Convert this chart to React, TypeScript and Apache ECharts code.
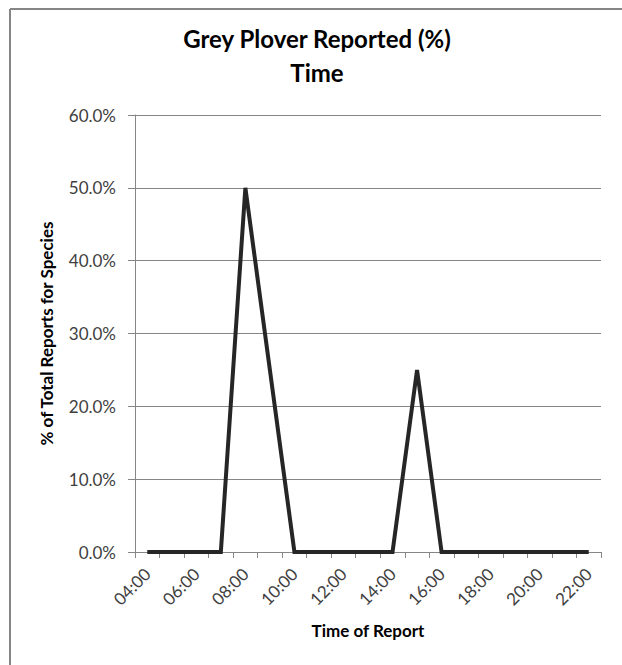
import React, { useEffect, useRef } from "react";
import * as echarts from "echarts";

const categories = [
  "04:00", "05:00", "06:00", "07:00", "08:00", "09:00", "10:00", "11:00", "12:00", "13:00",
  "14:00", "15:00", "16:00", "17:00", "18:00", "19:00", "20:00", "21:00", "22:00",
];
const reportedPct = [0, 0, 0, 0, 50, 25, 0, 0, 0, 0, 0, 25, 0, 0, 0, 0, 0, 0, 0];
const titleLines = ["Grey Plover Reported (%)", "Time"];
const yAxisName = "% of Total Reports for Species";
const xAxisName = "Time of Report";

export default function App() {
  const ref = useRef<HTMLDivElement>(null);
  useEffect(() => {
    if (!ref.current) return;
    const chart = echarts.init(ref.current, null, { renderer: "svg" });
    const font = "Lato, 'Noto Sans', sans-serif";
    const gray = "#868686";
    chart.setOption({
      animation: false,
      backgroundColor: "#ffffff",
      title: {
        text: titleLines.join("\n"),
        left: 312,
        top: 16,
        textAlign: "center",
        textStyle: {
          fontFamily: font,
          fontSize: 24,
          fontWeight: "bold",
          color: "#000000",
          lineHeight: 34,
        },
      },
      graphic: [
        { type: "line", shape: { x1: 10, y1: 9, x2: 622, y2: 9 }, style: { stroke: gray, lineWidth: 2 } },
        { type: "line", shape: { x1: 10, y1: 9, x2: 10, y2: 665 }, style: { stroke: gray, lineWidth: 2 } },
      ],
      grid: { left: 135, right: 21, top: 115, bottom: 113 },
      xAxis: {
        type: "category",
        data: categories,
        boundaryGap: true,
        name: xAxisName,
        nameLocation: "middle",
        nameGap: 70,
        nameTextStyle: { fontFamily: font, fontSize: 17, fontWeight: "bold", color: "#000000" },
        axisLine: { lineStyle: { color: gray, width: 1 } },
        axisTick: { show: true, interval: 0, length: 6, lineStyle: { color: gray } },
        axisLabel: {
          interval: 1,
          rotate: 45,
          margin: 19,
          fontFamily: font,
          fontSize: 17,
          color: "#404040",
        },
        splitLine: { show: false },
      },
      yAxis: {
        type: "value",
        min: 0,
        max: 60,
        interval: 10,
        name: yAxisName,
        nameLocation: "middle",
        nameRotate: 90,
        nameGap: 80,
        nameTextStyle: {
          fontFamily: font,
          fontSize: 17,
          fontWeight: "bold",
          color: "#000000",
        },
        axisLine: { show: true, lineStyle: { color: gray, width: 1 } },
        axisTick: { show: true, length: 7, lineStyle: { color: gray } },
        axisLabel: {
          margin: 19,
          fontFamily: font,
          fontSize: 17,
          color: "#404040",
          formatter: (v: number) => v.toFixed(1) + "%",
        },
        splitLine: { show: true, lineStyle: { color: gray, width: 1 } },
      },
      series: [
        {
          type: "line",
          data: reportedPct,
          symbol: "none",
          lineStyle: { color: "#262626", width: 4, join: "miter" },
          itemStyle: { color: "#262626" },
        },
      ],
    });
    return () => chart.dispose();
  }, []);
  return (
    <div
      ref={ref}
      style={{ position: "fixed", left: 0, top: 0, width: 622, height: 665 }}
    />
  );
}
